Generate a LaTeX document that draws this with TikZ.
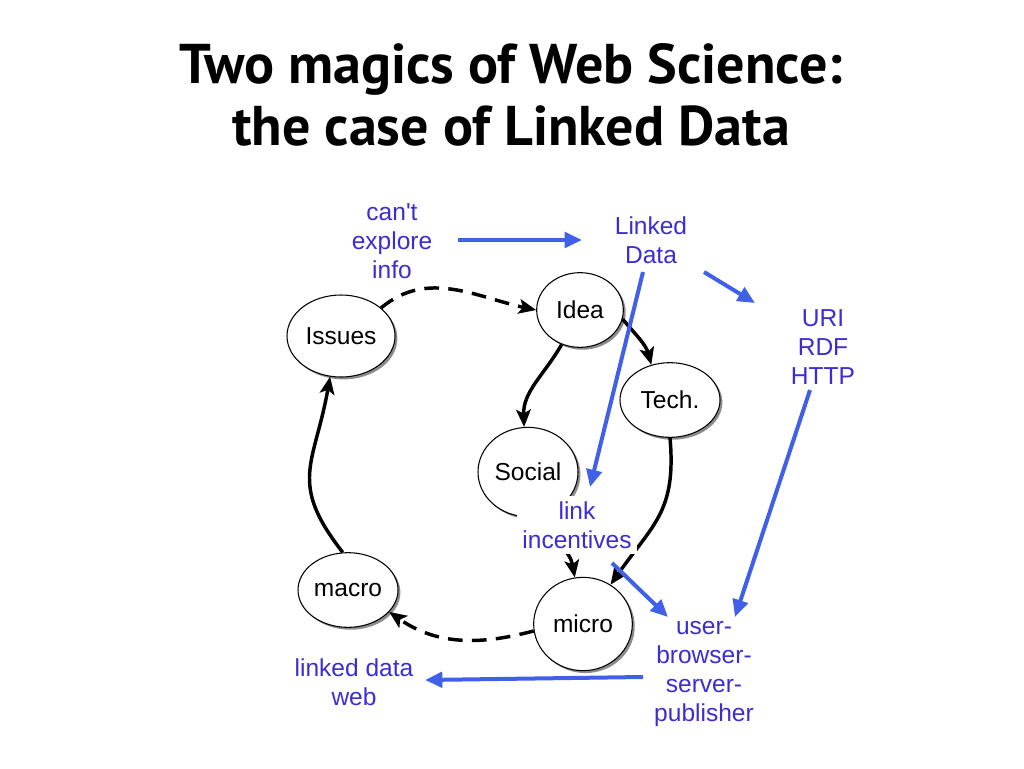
\documentclass[tikz,border=0pt]{standalone}
\usepackage{fontspec}
\newfontfamily\diagfont{Liberation Sans}
\newfontfamily\titlefont{PT Sans}
\usetikzlibrary{shapes.geometric,arrows.meta,shadows}
\definecolor{txtblue}{RGB}{60,45,210}
\definecolor{arrblue}{RGB}{64,96,232}
\begin{document}
\begin{tikzpicture}[x=0.75pt,y=-0.75pt,
  ell/.style={ellipse,draw=black,line width=0.8pt,fill=white,inner sep=0pt,
    drop shadow={shadow xshift=1.8pt,shadow yshift=-1.8pt,fill=black,opacity=0.45},
    font=\diagfont\fontsize{18.4}{22}\selectfont},
  lbl/.style={text=txtblue,align=center,inner sep=2pt,font=\diagfont\fontsize{18.4}{21.75}\selectfont},
  blk/.style={line width=2.6pt,-{Stealth[length=13pt,width=11pt,inset=3pt]}},
  dsh/.style={blk,dash pattern=on 11pt off 7pt},
  blu/.style={draw=arrblue,line width=3pt,-{Triangle[length=13pt,width=11.5pt]},color=arrblue}
]
\useasboundingbox (0,0) rectangle (1024,768);
\fill[white] (0,0) rectangle (1024,768);
% title
\node[anchor=base,font=\titlefont\bfseries\fontsize{42}{46}\selectfont] (t1) at (511,83) {Two magics of Web Science:};
\node[anchor=base,font=\titlefont\bfseries\fontsize{42}{46}\selectfont] (t2) at (511,145) {the case of Linked Data};
% ellipses
\node[ell,minimum width=81pt,minimum height=61.5pt] (issues) at (341,336) {Issues};
\node[ell,minimum width=65pt,minimum height=56pt] (idea) at (580,310) {Idea};
\node[ell,minimum width=75pt,minimum height=56pt] (tech) at (670,400) {Tech.};
\node[ell,minimum width=75pt,minimum height=67pt] (social) at (528,472) {Social};
\node[ell,minimum width=75pt,minimum height=56pt] (macro) at (348,590) {macro};
\node[ell,minimum width=74pt,minimum height=70pt] (micro) at (583,624) {micro};
% black edges
\draw[dsh] (issues.35) to[out=40,in=168] (idea.west);
\draw[blk] (idea.-12) to[out=-50,in=105] (tech.118);
\draw[blk] (idea.-118) to[out=-120,in=92] (social.95);
\draw[blk] (tech.south) to[out=-85,in=55,looseness=1.2] (micro.55);
\draw[blk] (social.-70) to[out=-70,in=100] (micro.100);
\draw[dsh] (micro.188) to[out=195,in=-35] (macro.-28);
\draw[blk] (macro.98) to[out=128,in=-100,looseness=1.3] (issues.-105);
% blue labels
\node[lbl] (cant) at (392,241) {can't\\explore\\info};
\node[lbl] (linked) at (651,240) {Linked\\Data};
\node[lbl] (uri) at (823,347) {URI\\RDF\\HTTP};
\node[lbl] (user) at (704,674) {user-\\browser-\\server-\\publisher};
\node[lbl,fill=white,inner sep=4pt] (link) at (577,525) {link\\incentives};
\node[lbl] (lweb) at (354,682) {linked data\\web};
% blue arrows
\draw[blu] ([shift={(66,-1)}]cant.center) -- ([shift={(-69,0)}]linked.center);
\draw[blu] ([shift={(53,32)}]linked.center) -- ([shift={(-68,-44)}]uri.center);
\draw[blu] ([shift={(-13,43)}]uri.center) -- ([shift={(31,-57)}]user.center);
\draw[blu] ([shift={(-8,32)}]linked.center) -- ([shift={(13,-38)}]link.center);
\draw[blu] ([shift={(35,38)}]link.center) -- ([shift={(-36,-57)}]user.center);
\draw[blu] ([shift={(-61,3)}]user.center) -- ([shift={(71,-2)}]lweb.center);
\end{tikzpicture}
\end{document}
